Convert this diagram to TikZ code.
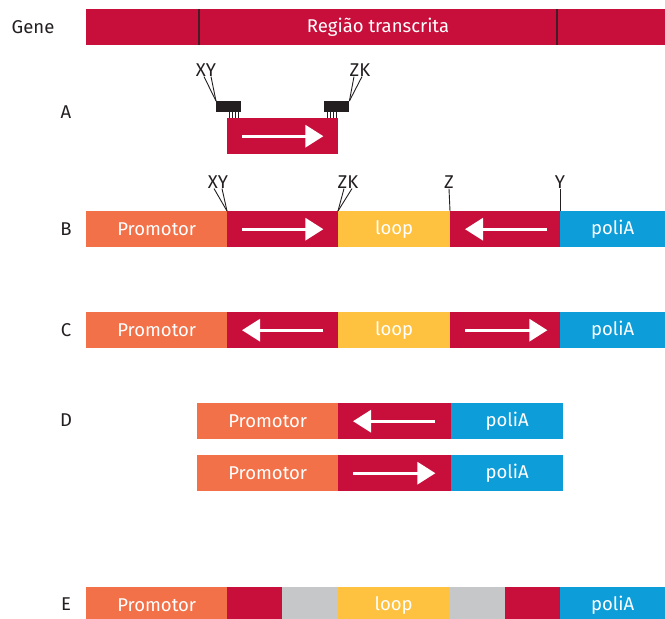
\documentclass[tikz,border=0pt]{standalone}
\usepackage{fontspec}
\setmainfont{Fira Sans}
\usetikzlibrary{arrows.meta}
\definecolor{cred}{RGB}{200,14,58}
\definecolor{corange}{RGB}{242,113,72}
\definecolor{cyellow}{RGB}{254,194,64}
\definecolor{cblue}{RGB}{13,158,218}
\definecolor{cgray}{RGB}{198,199,201}
\definecolor{cdark}{RGB}{35,31,32}
\tikzset{
  seg/.style={draw=none, inner sep=0pt, minimum height=36pt, text=white, anchor=north west,
    font=\fontsize{18.5}{20}\selectfont},
  rowlabel/.style={inner sep=0pt, text=cdark, font=\fontsize{18.5}{20}\selectfont},
  sitelabel/.style={inner sep=0pt, text=cdark, font=\fontsize{18.5}{20}\selectfont},
  warrow/.style={draw=white, line width=3pt, -{Triangle[length=18pt,width=22pt]}},
  tick/.style={draw=cdark, line width=0.9pt},
  primer/.style={fill=cdark, draw=none, inner sep=0pt, minimum width=25pt, minimum height=11pt, anchor=north west},
}
\begin{document}
\begin{tikzpicture}[x=1pt, y=-1pt]
\useasboundingbox (0,0) rectangle (665,619);
% Gene
\node[rowlabel] (lgene) at (33,27) {Gene};
\node[seg, fill=cred, minimum width=579pt] (gene) at (86,9) {};
\node[inner sep=0pt, text=white, font=\fontsize{18.5}{20}\selectfont] (genetxt) at (378,27) {Região transcrita};
\draw[draw=cdark!80!cred, line width=2pt] (199,9) -- (199,45) (557,9) -- (557,45);
% A
\node[rowlabel] (lA) at (66,112) {A};
\node[seg, fill=cred, minimum width=111pt] (aR) at (227,118) {};
\draw[warrow] ([xshift=15pt]aR.west) -- ([xshift=-15pt]aR.east);
\node[primer] (pL) at (216,101) {};
\node[primer] (pR) at (324,101) {};
\foreach \x in {229,232,235,238} \draw[draw=cdark, line width=0.6pt] (\x,112) -- (\x,118);
\foreach \x in {327,330,333,336} \draw[draw=cdark, line width=0.6pt] (\x,112) -- (\x,118);
\node[sitelabel] (aXY) at (206,70) {XY};
\node[sitelabel] (aZK) at (360,70) {ZK};
\draw[tick] ([xshift=-2pt]aXY.south) -- (pL.north west);
\draw[tick] ([xshift=5pt]aXY.south) -- (pL.north west);
\draw[tick] ([xshift=-6pt]aZK.south) -- (pR.north east);
\draw[tick] ([xshift=2pt]aZK.south) -- (pR.north east);
% B
\node[rowlabel] (lB) at (66,229) {B};
\node[seg, fill=corange, minimum width=141pt] (bP) at (86,211) {Promotor};
\node[seg, fill=cred, minimum width=111pt] (bR1) at (227,211) {};
\node[seg, fill=cyellow, minimum width=112pt] (bL) at (338,211) {loop};
\node[seg, fill=cred, minimum width=110pt] (bR2) at (450,211) {};
\node[seg, fill=cblue, minimum width=105pt] (bA) at (560,211) {poliA};
\draw[warrow] ([xshift=15pt]bR1.west) -- ([xshift=-15pt]bR1.east);
\draw[warrow] ([xshift=-13pt]bR2.east) -- ([xshift=15pt]bR2.west);
\node[sitelabel] (bXY) at (218,182) {XY};
\node[sitelabel] (bZK) at (348,182) {ZK};
\node[sitelabel] (bZ) at (449,182) {Z};
\node[sitelabel] (bY) at (560,182) {Y};
\draw[tick] ([xshift=-4pt]bXY.south) -- (bR1.north west);
\draw[tick] ([xshift=4pt]bXY.south) -- (bR1.north west);
\draw[tick] ([xshift=-4pt]bZK.south) -- (bL.north west);
\draw[tick] ([xshift=4pt]bZK.south) -- (bL.north west);
\draw[tick] (bZ.south) -- (bR2.north west);
\draw[tick] (bY.south) -- (bA.north west);
% C
\node[rowlabel] (lC) at (66,330) {C};
\node[seg, fill=corange, minimum width=141pt] (cP) at (86,312) {Promotor};
\node[seg, fill=cred, minimum width=111pt] (cR1) at (227,312) {};
\node[seg, fill=cyellow, minimum width=112pt] (cL) at (338,312) {loop};
\node[seg, fill=cred, minimum width=110pt] (cR2) at (450,312) {};
\node[seg, fill=cblue, minimum width=105pt] (cA) at (560,312) {poliA};
\draw[warrow] ([xshift=-15pt]cR1.east) -- ([xshift=15pt]cR1.west);
\draw[warrow] ([xshift=15pt]cR2.west) -- ([xshift=-13pt]cR2.east);
% D
\node[rowlabel] (lD) at (66,420) {D};
\node[seg, fill=corange, minimum width=141pt] (d1P) at (197,403) {Promotor};
\node[seg, fill=cred, minimum width=113pt] (d1R) at (338,403) {};
\node[seg, fill=cblue, minimum width=112pt] (d1A) at (451,403) {poliA};
\draw[warrow] ([xshift=-16pt]d1R.east) -- ([xshift=15pt]d1R.west);
\node[seg, fill=corange, minimum width=141pt] (d2P) at (197,455) {Promotor};
\node[seg, fill=cred, minimum width=113pt] (d2R) at (338,455) {};
\node[seg, fill=cblue, minimum width=112pt] (d2A) at (451,455) {poliA};
\draw[warrow] ([xshift=15pt]d2R.west) -- ([xshift=-16pt]d2R.east);
% E
\node[rowlabel] (lE) at (66,604) {E};
\node[seg, fill=corange, minimum width=141pt] (eP) at (86,587) {Promotor};
\node[seg, fill=cred, minimum width=55pt] (eR1) at (227,587) {};
\node[seg, fill=cgray, minimum width=56pt] (eG1) at (282,587) {};
\node[seg, fill=cyellow, minimum width=111pt] (eL) at (338,587) {loop};
\node[seg, fill=cgray, minimum width=56pt] (eG2) at (449,587) {};
\node[seg, fill=cred, minimum width=55pt] (eR2) at (505,587) {};
\node[seg, fill=cblue, minimum width=105pt] (eA) at (560,587) {poliA};
\end{tikzpicture}
\end{document}
